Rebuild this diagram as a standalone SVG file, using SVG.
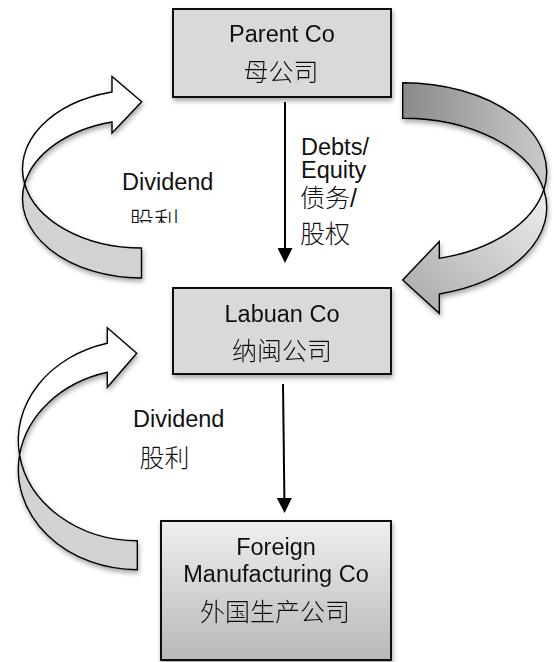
<svg xmlns="http://www.w3.org/2000/svg" width="554" height="662" viewBox="0 0 554 662">
  <style>
    .box { fill: #d9d9d9; stroke: #111; stroke-width: 2; }
    .en { font-family: "Liberation Sans", Arial, sans-serif; font-size: 23.5px; fill: #111; }
    .cj { font-family: "Noto Sans CJK SC", "Liberation Sans", sans-serif; font-size: 25px; font-weight: 300; fill: #111; }
    .lbl { font-family: "Liberation Sans", "Noto Sans CJK SC", sans-serif; font-size: 23.5px; fill: #111; }
    .cjl { font-family: "Liberation Sans", "Noto Sans CJK SC", sans-serif; font-size: 25px; font-weight: 300; fill: #111; }
    .flow { fill: none; stroke: #000; stroke-width: 2; }
    .band { stroke: #000; stroke-width: 1.4; stroke-linejoin: miter; }
    .front { fill: #ffffff; }
    .back { fill: #d2d2d2; }
  </style>
  <defs>
    <filter id="sh" x="-15%" y="-15%" width="135%" height="140%">
      <feGaussianBlur in="SourceAlpha" stdDeviation="2.5"/>
      <feOffset dx="1" dy="3"/>
      <feComponentTransfer><feFuncA type="linear" slope="0.35"/></feComponentTransfer>
      <feMerge><feMergeNode/><feMergeNode in="SourceGraphic"/></feMerge>
    </filter>
    <linearGradient id="gFor" x1="0" y1="0" x2="0" y2="1">
      <stop offset="0" stop-color="#efefef"/>
      <stop offset="1" stop-color="#b8b8b8"/>
    </linearGradient>
    <linearGradient id="gBack" x1="0" y1="0" x2="1" y2="0">
      <stop offset="0" stop-color="#8a8a8a"/>
      <stop offset="1" stop-color="#cacaca"/>
    </linearGradient>
    <linearGradient id="gFront" x1="1" y1="0" x2="0" y2="1">
      <stop offset="0" stop-color="#eeeeee"/>
      <stop offset="1" stop-color="#a8a8a8"/>
    </linearGradient>
    <marker id="ah" viewBox="0 0 15 15" refX="1" refY="7.5" markerWidth="15" markerHeight="15" markerUnits="userSpaceOnUse" orient="auto">
      <path d="M0 0 L15 7.5 L0 15 Z" fill="#000"/>
    </marker>
    <clipPath id="clipDiv">
      <rect x="100" y="195" width="120" height="28"/>
    </clipPath>
  </defs>

  <g id="connectors">
    <g id="edge-parent-labuan">
      <path class="flow" d="M285 102 V249" marker-end="url(#ah)"/>
    </g>
    <g id="edge-labuan-foreign">
      <path class="flow" d="M283 384 L284.4 499" marker-end="url(#ah)"/>
    </g>
    <g id="edge-parent-labuan-curve" filter="url(#sh)">
      <path class="band" fill="url(#gBack)" d="M402.7 82.7 A144 89.3 0 0 1 543.8 189.8 A144 89.3 0 0 0 402.7 118.3 Z"/>
      <path class="band" fill="url(#gFront)" d="M543.8 189.8 A144 89.3 0 0 1 439.3 294 L439.3 313.3 L402.7 280 L439.3 241.5 L439.3 258.4 A144 89.3 0 0 0 543.8 189.8 Z"/>
    </g>
    <g id="edge-labuan-parent-curve" filter="url(#sh)">
      <path class="band back" d="M24.65 183.76 A119 79.24 0 0 0 141.5 248 L141.5 278 A119 79.24 0 0 1 24.65 183.76 Z"/>
      <path class="band front" d="M112 92 A119 79.24 0 0 0 24.65 183.76 A119 79.24 0 0 1 112 122 L112 133 L141.7 101.7 L112 76.5 Z"/>
    </g>
    <g id="edge-foreign-labuan-curve" filter="url(#sh)">
      <path class="band back" d="M19.55 454.9 A119 100.3 0 0 0 137.3 540.7 L137.3 569.7 A119 100.3 0 0 1 19.55 454.9 Z"/>
      <path class="band front" d="M107.3 343.3 A119 100.3 0 0 0 19.55 454.9 A119 100.3 0 0 1 107.3 372.3 L107.3 387.3 L136.7 353.3 L107.3 327.7 Z"/>
    </g>
    <g id="edge-labels">
      <text class="lbl" x="301" y="155">Debts/</text>
      <text class="lbl" x="301" y="178">Equity</text>
      <text class="cjl" x="300" y="207">债务/</text>
      <text class="cjl" x="300" y="243">股权</text>
      <text class="lbl" x="122" y="190">Dividend</text>
      <text class="cjl" x="129" y="230" clip-path="url(#clipDiv)">股利</text>
      <text class="lbl" x="133" y="427">Dividend</text>
      <text class="cjl" x="139.5" y="467">股利</text>
    </g>
  </g>

  <g id="parent" filter="url(#sh)">
    <rect class="box" x="173" y="9" width="218" height="88"/>
    <text class="en" x="282" y="42" text-anchor="middle">Parent Co</text>
    <text class="cj" x="281" y="81" text-anchor="middle">母公司</text>
  </g>

  <g id="labuan" filter="url(#sh)">
    <rect class="box" x="173" y="288" width="218" height="86"/>
    <text class="en" x="282" y="322" text-anchor="middle">Labuan Co</text>
    <text class="cj" x="282" y="360" text-anchor="middle">纳闽公司</text>
  </g>

  <g id="foreign" filter="url(#sh)">
    <rect class="box" x="161" y="521" width="230" height="139" style="fill:url(#gFor)"/>
    <text class="en" x="276" y="555" text-anchor="middle">Foreign</text>
    <text class="en" x="276" y="582" text-anchor="middle">Manufacturing Co</text>
    <text class="cj" x="275" y="621" text-anchor="middle">外国生产公司</text>
  </g>
</svg>
